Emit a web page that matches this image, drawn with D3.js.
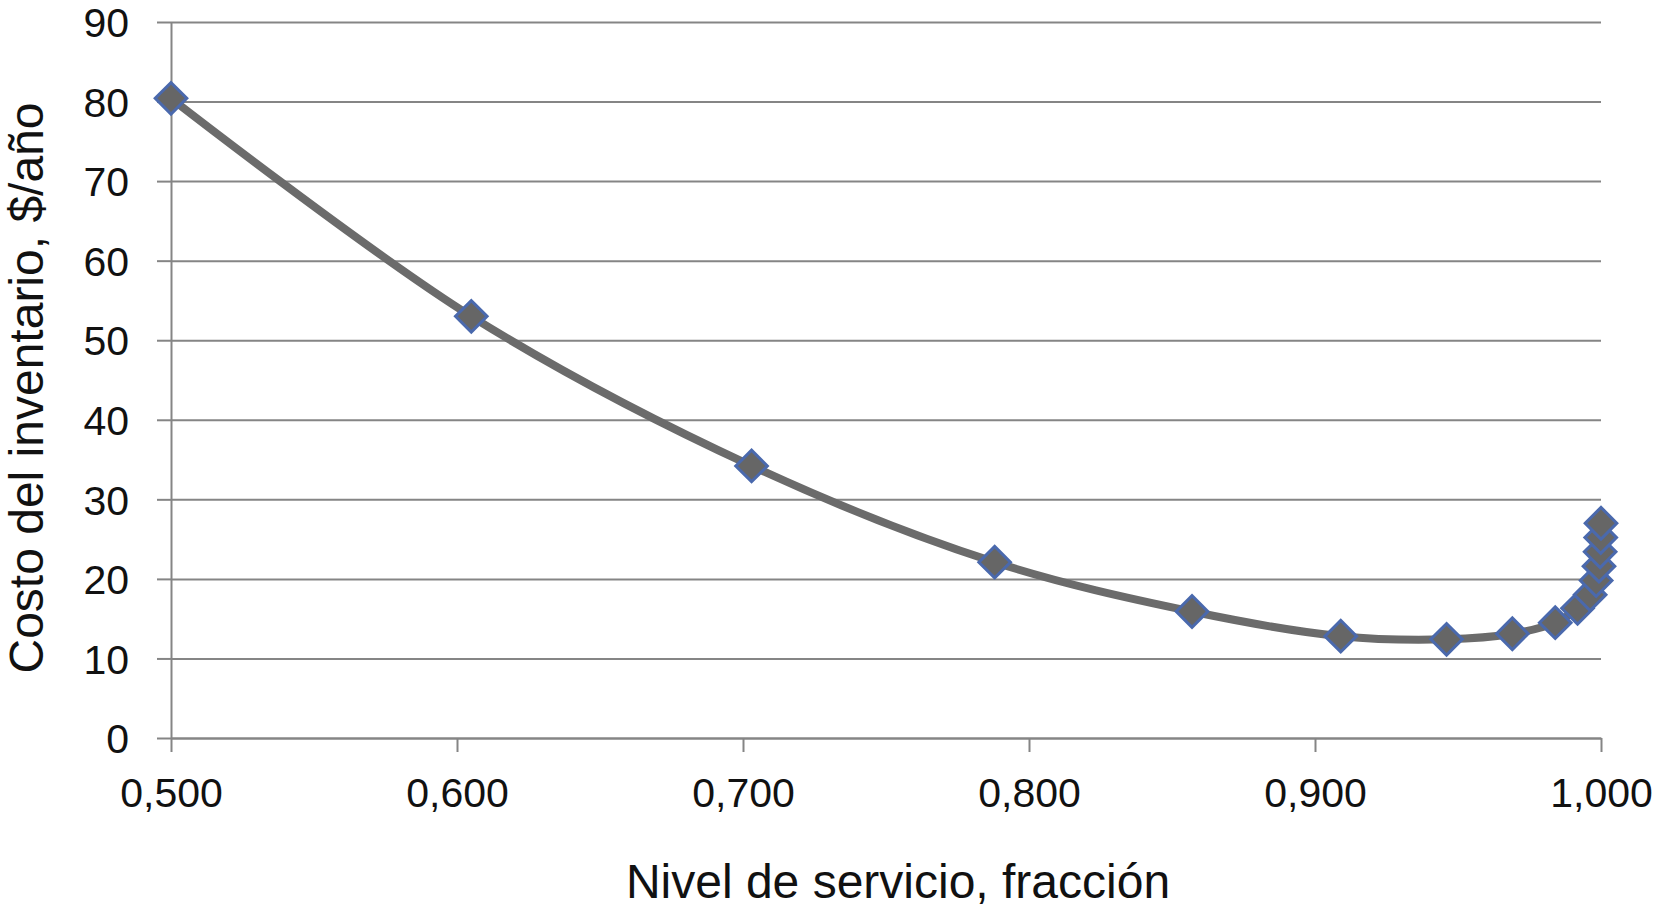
<!DOCTYPE html>
<html>
<head>
<meta charset="utf-8">
<script src="https://cdn.jsdelivr.net/npm/d3@7"></script>
<style>
  html, body { margin: 0; padding: 0; background: #fff; }
  svg { display: block; font-family: "Liberation Sans", Arial, sans-serif; }
  .tick text { fill: #111; }
</style>
</head>
<body>
<svg id="chart"></svg>
<script>
// size
const width = 1654;
const height = 910;

// boundaries
const margin = { top: 22, right: 53, bottom: 172, left: 171 };
const innerWidth = width - margin.left - margin.right;
const innerHeight = height - margin.top - margin.bottom;

// data
const serviceLevel = [0.500, 0.605, 0.703, 0.788, 0.857, 0.909, 0.946, 0.969, 0.984,
                      0.9918, 0.9962, 0.9983, 0.9993, 0.9997, 0.9999, 1.000];
const inventoryCost = [80.4, 53.0, 34.2, 22.1, 15.9, 12.8, 12.4, 13.1, 14.5,
                       16.3, 18.0, 19.8, 21.6, 23.4, 25.2, 27.0];

// ticks
const xTicks = [0.5, 0.6, 0.7, 0.8, 0.9, 1.0];
const yTicks = [0, 10, 20, 30, 40, 50, 60, 70, 80, 90];

// labels
const xTitle = "Nivel de servicio, fracción";
const yTitle = "Costo del inventario, $/año";

// decimal comma
const locale = d3.formatLocale({ decimal: ",", thousands: ".", grouping: [3], currency: ["$", ""] });
const fmtX = locale.format(".3f");

const gridColor = "#858585";
const lineColor = "#6b6b6b";
const markerFill = "#666666";
const markerStroke = "#4a69ad";

const points = serviceLevel.map((x, i) => ({ x: x, y: inventoryCost[i] }));

const svg = d3.select("#chart")
    .attr("width", width)
    .attr("height", height);

const g = svg.append("g")
    .attr("transform", `translate(${margin.left},${margin.top})`);

// scales
const xScale = d3.scaleLinear().domain([0.5, 1.0]).range([0, innerWidth]);
const yScale = d3.scaleLinear().domain([0, 90]).range([innerHeight, 0]);

// horizontal grid
g.append("g")
    .attr("class", "grid")
    .call(d3.axisLeft(yScale).tickValues(yTicks).tickSize(-innerWidth).tickFormat(""))
    .call(s => s.select(".domain").remove())
    .call(s => s.selectAll("text").remove())
    .call(s => s.selectAll("line").attr("stroke", gridColor).attr("stroke-width", 2));

// y axis
g.append("g")
    .attr("class", "y-axis")
    .call(d3.axisLeft(yScale).tickValues(yTicks).tickSizeInner(14).tickSizeOuter(0).tickPadding(28))
    .call(s => s.select(".domain").attr("stroke", gridColor).attr("stroke-width", 2))
    .call(s => s.selectAll("line").attr("stroke", gridColor).attr("stroke-width", 2))
    .call(s => s.selectAll("text")
        .attr("font-size", 41)
        .attr("dy", "0.36em"));

// x axis
g.append("g")
    .attr("class", "x-axis")
    .attr("transform", `translate(0,${innerHeight})`)
    .call(d3.axisBottom(xScale).tickValues(xTicks).tickSizeInner(14).tickSizeOuter(0).tickPadding(26).tickFormat(fmtX))
    .call(s => s.select(".domain").attr("stroke", gridColor).attr("stroke-width", 2))
    .call(s => s.selectAll("line").attr("stroke", gridColor).attr("stroke-width", 2))
    .call(s => s.selectAll("text").attr("font-size", 41));

// axis titles
svg.append("text")
    .attr("text-anchor", "middle")
    .attr("x", 898)
    .attr("y", 898)
    .attr("font-size", 48)
    .attr("fill", "#111")
    .text(xTitle);

svg.append("text")
    .attr("text-anchor", "middle")
    .attr("transform", `translate(43, 388) rotate(-90)`)
    .attr("font-size", 48)
    .attr("fill", "#111")
    .text(yTitle);

// smoothed line
const line = d3.line()
    .x(d => xScale(d.x))
    .y(d => yScale(d.y))
    .curve(d3.curveCatmullRom.alpha(0.5));

g.append("path")
    .datum(points)
    .attr("fill", "none")
    .attr("stroke", lineColor)
    .attr("stroke-width", 8)
    .attr("stroke-linejoin", "round")
    .attr("d", line);

// diamond markers
const diamond = d3.symbol().type(d3.symbolSquare).size(500);

g.append("g")
    .selectAll("path")
    .data(points)
    .enter()
    .append("path")
    .attr("d", diamond)
    .attr("transform", d => `translate(${xScale(d.x)},${yScale(d.y)}) rotate(45)`)
    .attr("fill", markerFill)
    .attr("stroke", markerStroke)
    .attr("stroke-width", 3);
</script>
</body>
</html>
